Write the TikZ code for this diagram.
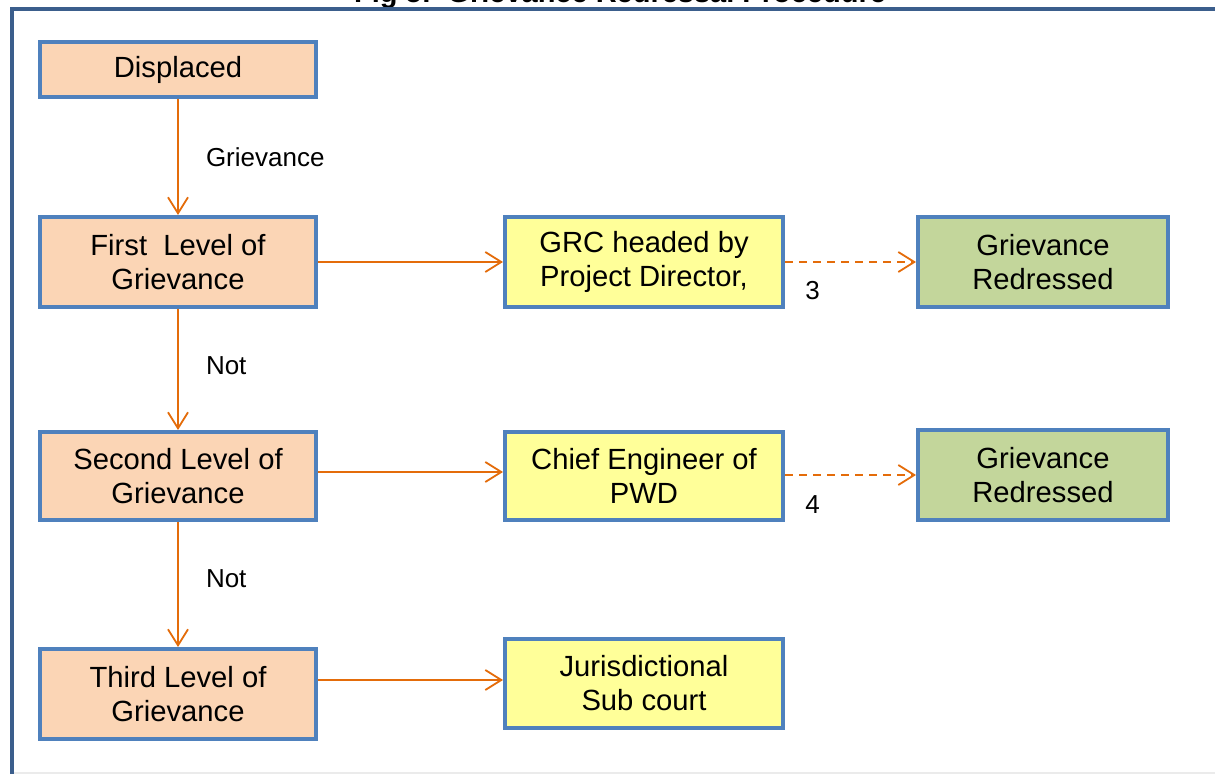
\documentclass[tikz,border=0pt]{standalone}
\usepackage{fontspec}
\setmainfont{Liberation Sans}
\usetikzlibrary{arrows.meta}
\definecolor{bordblue}{HTML}{4F81BD}
\definecolor{framblue}{HTML}{3B5E8C}
\definecolor{peach}{HTML}{FBD5B5}
\definecolor{paleyel}{HTML}{FFFF99}
\definecolor{palegrn}{HTML}{C3D69B}
\definecolor{arrorange}{HTML}{E46C0A}
\tikzset{
  box/.style={draw=bordblue, line width=2pt, inner sep=0pt, align=center,
    font=\fontsize{14.6}{17}\selectfont},
  peachbox/.style={box, fill=peach, minimum width=138pt},
  yelbox/.style={box, fill=paleyel, minimum width=139pt},
  grnbox/.style={box, fill=palegrn, minimum width=125pt},
  conn/.style={draw=arrorange, line width=1pt,
    -{Straight Barb[length=8pt,width=10pt,line width=0.9pt]}},
  dconn/.style={conn, dash pattern=on 4pt off 3pt},
  lbl/.style={inner sep=0pt, font=\fontsize{13}{15}\selectfont, text=black},
}
\begin{document}
\begin{tikzpicture}[x=0.5pt,y=-0.5pt]
\useasboundingbox (0,0) rectangle (1215,774);
\fill[white] (0,0) rectangle (1215,774);
% title (cut off at top)
\node[anchor=base, inner sep=0pt, font=\bfseries\fontsize{14.5}{16}\selectfont] (title) at (620,3) {Fig 5:\ \ Grievance Redressal Procedure};
% outer frame
\draw[framblue, line width=2pt] (12,800) -- (12,9) -- (1250,9);
\draw[black!8, line width=0.6pt] (14,773) -- (1215,773);
% left column
\node[peachbox, minimum height=27.5pt] (disp) at (178,69.5) {Displaced};
\node[peachbox, minimum height=45pt] (first) at (178,262) {First\ \ Level of\\Grievance};
\node[peachbox, minimum height=44pt] (second) at (178,476) {Second Level of\\Grievance};
\node[peachbox, minimum height=45pt] (third) at (178,694) {Third Level of\\Grievance};
% middle column
\node[yelbox, minimum height=45pt] (grc) at (644,262) {GRC headed by\\Project Director,};
\node[yelbox, minimum height=44pt] (ce) at (644,476) {Chief Engineer of\\PWD};
\node[yelbox, minimum height=44.5pt] (jur) at (644,683.5) {Jurisdictional\\Sub court};
% right column
\node[grnbox, minimum height=45pt] (gr1) at (1043,262) {Grievance\\Redressed};
\node[grnbox, minimum height=45pt] (gr2) at (1043,475) {Grievance\\Redressed};
% vertical connectors
\draw[conn] (disp.south) -- node[lbl, anchor=west, xshift=13.5pt, pos=0.5] (l1) {Grievance} (first.north);
\draw[conn] (first.south) -- node[lbl, anchor=west, xshift=13.5pt, pos=0.47] (l2) {Not} (second.north);
\draw[conn] (second.south) -- node[lbl, anchor=west, xshift=13.5pt, pos=0.45] (l3) {Not} (third.north);
% horizontal connectors
\draw[conn] (first.east) -- (grc.west);
\draw[conn] ([yshift=2pt]second.east) -- ([yshift=2pt]ce.west);
\draw[conn] (third.east |- 0,680) -- (jur.west |- 0,680);
% dashed connectors
\draw[dconn] (grc.east) -- node[lbl, pos=0.21, yshift=-14.5pt] (n3) {3} (gr1.west);
\draw[dconn] (ce.east |- 0,475) -- node[lbl, pos=0.21, yshift=-15pt] (n4) {4} (gr2.west);
\end{tikzpicture}
\end{document}
